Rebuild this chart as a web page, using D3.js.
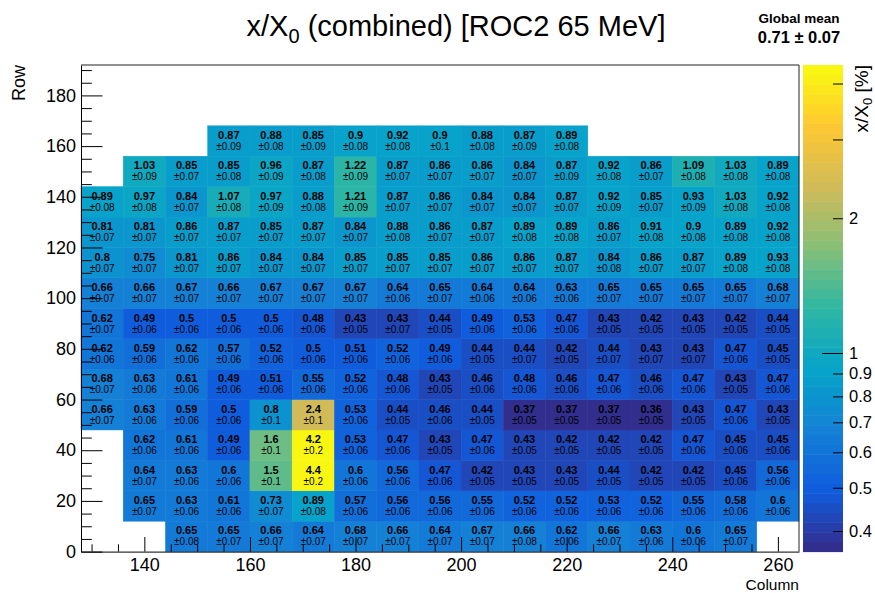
<!DOCTYPE html>
<html>
<head>
<meta charset="utf-8">
<script src="https://cdn.jsdelivr.net/npm/d3@7"></script>
<style>
body { margin: 0; background: #fff; }
text { font-family: "Liberation Sans", Arial, Helvetica, sans-serif; }
</style>
</head>
<body>
<div id="chart"></div>
<script>
// Bin lower edges (column / row) and widths
var colLow = [128, 136, 144, 152, 160, 168, 176, 184, 192, 200, 208, 216, 224, 232, 240, 248, 256];
var rowLow = [0, 12, 24, 36, 48, 60, 72, 84, 96, 108, 120, 132, 144, 156];
var colWidth = 8;
var rowHeight = 12;

// x/X0 values per row (bottom to top), null = empty bin
var val_r0  = [null, null, 0.65, 0.65, 0.66, 0.64, 0.68, 0.66, 0.64, 0.67, 0.66, 0.62, 0.66, 0.63, 0.6, 0.65, null];
var val_r1  = [null, 0.65, 0.63, 0.61, 0.73, 0.89, 0.57, 0.56, 0.56, 0.55, 0.52, 0.52, 0.53, 0.52, 0.55, 0.58, 0.6];
var val_r2  = [null, 0.64, 0.63, 0.6, 1.5, 4.4, 0.6, 0.56, 0.47, 0.42, 0.43, 0.43, 0.44, 0.42, 0.42, 0.45, 0.56];
var val_r3  = [null, 0.62, 0.61, 0.49, 1.6, 4.2, 0.53, 0.47, 0.43, 0.47, 0.43, 0.42, 0.42, 0.42, 0.47, 0.45, 0.45];
var val_r4  = [0.66, 0.63, 0.59, 0.5, 0.8, 2.4, 0.53, 0.44, 0.46, 0.44, 0.37, 0.37, 0.37, 0.36, 0.43, 0.47, 0.43];
var val_r5  = [0.68, 0.63, 0.61, 0.49, 0.51, 0.55, 0.52, 0.48, 0.43, 0.46, 0.48, 0.46, 0.47, 0.46, 0.47, 0.43, 0.47];
var val_r6  = [0.62, 0.59, 0.62, 0.57, 0.52, 0.5, 0.51, 0.52, 0.49, 0.44, 0.44, 0.42, 0.44, 0.43, 0.43, 0.47, 0.45];
var val_r7  = [0.62, 0.49, 0.5, 0.5, 0.5, 0.48, 0.43, 0.43, 0.44, 0.49, 0.53, 0.47, 0.43, 0.42, 0.43, 0.42, 0.44];
var val_r8  = [0.66, 0.66, 0.67, 0.66, 0.67, 0.67, 0.67, 0.64, 0.65, 0.64, 0.64, 0.63, 0.65, 0.65, 0.65, 0.65, 0.68];
var val_r9  = [0.8, 0.75, 0.81, 0.86, 0.84, 0.84, 0.85, 0.85, 0.85, 0.86, 0.86, 0.87, 0.84, 0.86, 0.87, 0.89, 0.93];
var val_r10 = [0.81, 0.81, 0.86, 0.87, 0.85, 0.87, 0.84, 0.88, 0.86, 0.87, 0.89, 0.89, 0.86, 0.91, 0.9, 0.89, 0.92];
var val_r11 = [0.89, 0.97, 0.84, 1.07, 0.97, 0.88, 1.21, 0.87, 0.86, 0.84, 0.84, 0.87, 0.92, 0.85, 0.93, 1.03, 0.92];
var val_r12 = [null, 1.03, 0.85, 0.85, 0.96, 0.87, 1.22, 0.87, 0.86, 0.86, 0.84, 0.87, 0.92, 0.86, 1.09, 1.03, 0.89];
var val_r13 = [null, null, null, 0.87, 0.88, 0.85, 0.9, 0.92, 0.9, 0.88, 0.87, 0.89, null, null, null, null, null];

// uncertainties, same layout
var err_r0  = [null, null, 0.08, 0.07, 0.07, 0.07, 0.07, 0.07, 0.07, 0.07, 0.08, 0.06, 0.07, 0.06, 0.06, 0.07, null];
var err_r1  = [null, 0.07, 0.06, 0.06, 0.07, 0.08, 0.06, 0.06, 0.06, 0.06, 0.06, 0.06, 0.06, 0.06, 0.06, 0.06, 0.06];
var err_r2  = [null, 0.07, 0.06, 0.06, 0.1, 0.2, 0.06, 0.06, 0.06, 0.05, 0.05, 0.05, 0.05, 0.05, 0.05, 0.06, 0.06];
var err_r3  = [null, 0.06, 0.06, 0.06, 0.1, 0.2, 0.06, 0.06, 0.05, 0.06, 0.05, 0.05, 0.05, 0.05, 0.06, 0.06, 0.06];
var err_r4  = [0.07, 0.06, 0.06, 0.06, 0.1, 0.1, 0.06, 0.05, 0.06, 0.05, 0.05, 0.05, 0.05, 0.05, 0.05, 0.06, 0.05];
var err_r5  = [0.07, 0.06, 0.06, 0.06, 0.06, 0.06, 0.06, 0.06, 0.05, 0.06, 0.06, 0.06, 0.06, 0.06, 0.06, 0.05, 0.06];
var err_r6  = [0.06, 0.06, 0.06, 0.06, 0.06, 0.06, 0.06, 0.06, 0.06, 0.05, 0.07, 0.05, 0.07, 0.07, 0.07, 0.06, 0.05];
var err_r7  = [0.07, 0.06, 0.06, 0.06, 0.06, 0.06, 0.05, 0.07, 0.05, 0.06, 0.06, 0.06, 0.05, 0.05, 0.05, 0.05, 0.05];
var err_r8  = [0.07, 0.07, 0.07, 0.07, 0.07, 0.07, 0.07, 0.06, 0.07, 0.06, 0.06, 0.06, 0.07, 0.07, 0.07, 0.07, 0.07];
var err_r9  = [0.07, 0.07, 0.07, 0.07, 0.07, 0.07, 0.07, 0.07, 0.07, 0.07, 0.07, 0.07, 0.08, 0.07, 0.07, 0.08, 0.08];
var err_r10 = [0.07, 0.07, 0.07, 0.07, 0.07, 0.07, 0.07, 0.08, 0.07, 0.07, 0.08, 0.08, 0.07, 0.08, 0.08, 0.08, 0.08];
var err_r11 = [0.08, 0.08, 0.07, 0.08, 0.09, 0.08, 0.09, 0.07, 0.07, 0.07, 0.07, 0.07, 0.09, 0.07, 0.09, 0.08, 0.08];
var err_r12 = [null, 0.09, 0.07, 0.08, 0.09, 0.08, 0.09, 0.07, 0.07, 0.07, 0.07, 0.09, 0.08, 0.07, 0.08, 0.08, 0.08];
var err_r13 = [null, null, null, 0.09, 0.08, 0.09, 0.08, 0.08, 0.1, 0.08, 0.09, 0.08, null, null, null, null, null];

// axis ticks
var xTicks = [140, 160, 180, 200, 220, 240, 260];
var yTicks = [0, 20, 40, 60, 80, 100, 120, 140, 160, 180];
var zTicks = [0.4, 0.5, 0.6, 0.7, 0.8, 0.9, 1, 2, 3, 4];
var zTickLabels = ["0.4", "0.5", "0.6", "0.7", "0.8", "0.9", "1", "2", "", ""];
var zRange = [0.36, 4.4];

var globalMean = "0.71 \u00b1 0.07";

// SVG area
var svgWidth = 875;
var svgHeight = 593;
var frame = { left: 81, right: 799, top: 65, bottom: 551.6 };

var svg = d3.select("#chart")
    .append("svg")
    .attr("width", svgWidth)
    .attr("height", svgHeight);

var xScale = d3.scaleLinear().domain([128, 264]).range([frame.left, frame.right]);
var yScale = d3.scaleLinear().domain([0, 192]).range([frame.bottom, frame.top]);

// kBird palette, log z with 50 contour levels
var birdStops = ["#352a87", "#0f5cdd", "#1481d6", "#06a4ca", "#2eb7a4", "#87bf77", "#d1bb59", "#fec832", "#f9fb0e"];
var bird = d3.scaleLinear()
    .domain(d3.range(birdStops.length).map(i => i / (birdStops.length - 1)))
    .range(birdStops)
    .interpolate(d3.interpolateRgb);
var nLevels = 50;
var zNorm = d3.scaleLog().domain(zRange).range([0, 1]).clamp(true);

function levelColor(k) {
    return bird((k + 0.5) / nLevels);
}
function cellColor(v) {
    var k = Math.min(nLevels - 1, Math.floor(zNorm(v) * nLevels + 1e-9));
    return levelColor(k);
}

// build the cell table
var valRows = [val_r0, val_r1, val_r2, val_r3, val_r4, val_r5, val_r6, val_r7, val_r8, val_r9, val_r10, val_r11, val_r12, val_r13];
var errRows = [err_r0, err_r1, err_r2, err_r3, err_r4, err_r5, err_r6, err_r7, err_r8, err_r9, err_r10, err_r11, err_r12, err_r13];
var cells = [];
valRows.forEach(function(row, r) {
    row.forEach(function(v, c) {
        if (v === null) return;
        cells.push({ col: colLow[c], row: rowLow[r], value: v, err: errRows[r][c] });
    });
});

var cellGroup = svg.append("g");
cellGroup.selectAll("rect")
    .data(cells)
    .enter()
    .append("rect")
    .attr("x", d => xScale(d.col))
    .attr("y", d => yScale(d.row + rowHeight))
    .attr("width", d => xScale(d.col + colWidth) - xScale(d.col))
    .attr("height", d => yScale(d.row) - yScale(d.row + rowHeight))
    .attr("fill", d => cellColor(d.value))
    .attr("stroke", d => cellColor(d.value))
    .attr("stroke-width", 0.5);

var textGroup = svg.append("g");
textGroup.selectAll("text.val")
    .data(cells)
    .enter()
    .append("text")
    .attr("class", "val")
    .attr("x", d => xScale(d.col + colWidth / 2))
    .attr("y", d => yScale(d.row + rowHeight / 2) - 2)
    .attr("text-anchor", "middle")
    .attr("font-size", "11px")
    .attr("font-weight", "bold")
    .attr("fill", "#000")
    .text(d => String(d.value));

textGroup.selectAll("text.err")
    .data(cells)
    .enter()
    .append("text")
    .attr("class", "err")
    .attr("x", d => xScale(d.col + colWidth / 2))
    .attr("y", d => yScale(d.row + rowHeight / 2) + 9)
    .attr("text-anchor", "middle")
    .attr("font-size", "10px")
    .attr("fill", "#000")
    .text(d => "\u00b1" + String(d.err));

// axes
function styleAxis(g, size) {
    g.attr("font-family", null).attr("font-size", null);
    g.selectAll("text").attr("font-size", size).attr("fill", "#000");
    g.selectAll("line").attr("stroke", "#000");
    g.select(".domain").attr("stroke", "#000");
}

var xMinor = d3.range(130, 265, 5).filter(v => xTicks.indexOf(v) < 0);
svg.append("g")
    .attr("transform", `translate(0, ${frame.bottom})`)
    .call(d3.axisBottom(xScale).tickValues(xMinor).tickSize(-7.3).tickFormat(""))
    .call(g => g.select(".domain").remove())
    .call(g => g.selectAll("line").attr("stroke", "#000"));

var xAxis = svg.append("g")
    .attr("transform", `translate(0, ${frame.bottom})`)
    .call(d3.axisBottom(xScale).tickValues(xTicks).tickSize(-14.6).tickSizeOuter(0).tickPadding(7));
styleAxis(xAxis, "18px");

var yMinor = d3.range(0, 193, 5).filter(v => yTicks.indexOf(v) < 0);
svg.append("g")
    .attr("transform", `translate(${frame.left}, 0)`)
    .call(d3.axisLeft(yScale).tickValues(yMinor).tickSize(-10.8).tickFormat(""))
    .call(g => g.select(".domain").remove())
    .call(g => g.selectAll("line").attr("stroke", "#000"));

var yAxis = svg.append("g")
    .attr("transform", `translate(${frame.left}, 0)`)
    .call(d3.axisLeft(yScale).tickValues(yTicks).tickSize(-21.5).tickSizeOuter(0).tickPadding(5));
styleAxis(yAxis, "18px");

// top and right frame lines
svg.append("path")
    .attr("d", `M${frame.left},${frame.top}H${frame.right}V${frame.bottom}`)
    .attr("fill", "none")
    .attr("stroke", "#222")
    .attr("stroke-width", 1);

// axis titles
svg.append("text")
    .attr("x", frame.right)
    .attr("y", 590)
    .attr("text-anchor", "end")
    .attr("font-size", "15.5px")
    .text("Column");

svg.append("text")
    .attr("transform", `translate(25, ${frame.top}) rotate(-90)`)
    .attr("text-anchor", "end")
    .attr("font-size", "18px")
    .text("Row");

// colour bar
var bar = { left: 803, right: 843 };
var zScale = d3.scaleLog().domain(zRange).range([frame.bottom, frame.top]);
var levels = d3.range(nLevels);
svg.append("g").selectAll("rect")
    .data(levels)
    .enter()
    .append("rect")
    .attr("x", bar.left)
    .attr("width", bar.right - bar.left)
    .attr("y", k => zScale(zNorm.invert((k + 1) / nLevels)))
    .attr("height", k => zScale(zNorm.invert(k / nLevels)) - zScale(zNorm.invert((k + 1) / nLevels)) + 0.5)
    .attr("fill", k => levelColor(k));

var zAxis = svg.append("g")
    .attr("transform", `translate(${bar.right}, 0)`)
    .call(d3.axisRight(zScale).tickValues(zTicks).tickSize(-10).tickSizeOuter(0).tickPadding(6)
        .tickFormat((d, i) => zTickLabels[i]));
styleAxis(zAxis, "16.5px");
zAxis.select(".domain").remove();
zAxis.selectAll(".tick").filter(d => d === 1).select("line").attr("x2", -21);

svg.append("text")
    .attr("transform", `translate(868, ${frame.top}) rotate(-90)`)
    .attr("text-anchor", "end")
    .attr("font-size", "19px")
    .call(t => {
        t.append("tspan").text("x/X");
        t.append("tspan").attr("font-size", "13px").attr("dy", 4).text("0");
        t.append("tspan").attr("dy", -4).text(" [%]");
    });

// title
svg.append("text")
    .attr("x", 456)
    .attr("y", 36)
    .attr("text-anchor", "middle")
    .attr("font-size", "29px")
    .call(t => {
        t.append("tspan").text("x/X");
        t.append("tspan").attr("font-size", "20px").attr("dy", 7).text("0");
        t.append("tspan").attr("dy", -7).text(" (combined) [ROC2 65 MeV]");
    });

// global mean box
svg.append("text")
    .attr("x", 799)
    .attr("y", 22.5)
    .attr("text-anchor", "middle")
    .attr("font-size", "13.5px")
    .attr("font-weight", "bold")
    .text("Global mean");

svg.append("text")
    .attr("x", 799)
    .attr("y", 42.5)
    .attr("text-anchor", "middle")
    .attr("font-size", "16.5px")
    .attr("font-weight", "bold")
    .text(globalMean);
</script>
</body>
</html>
